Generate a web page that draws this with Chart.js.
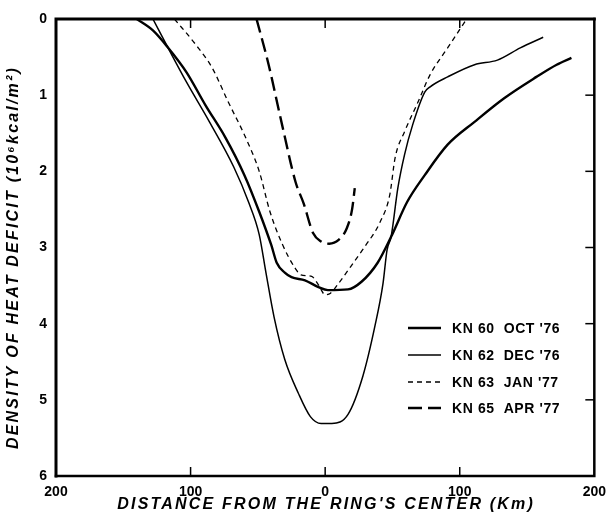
<!DOCTYPE html>
<html>
<head>
<meta charset="utf-8">
<script src="https://cdn.jsdelivr.net/npm/chart.js@4"></script>
<style>
  html, body { margin: 0; padding: 0; background: #fff; }
  #wrap { width: 614px; height: 518px; }
</style>
</head>
<body>
<div id="wrap"><canvas id="myChart" width="614" height="518"></canvas></div>
<script>
// values: distance (km, negative = left of center), heat deficit (10^6 kcal/m^2)
var oct76X = [-140, -128, -117, -103, -89, -74, -60, -49, -40, -36, -30, -25, -15, -5, 2, 17, 27, 39, 49, 61, 74, 91, 111, 133, 157, 172, 183];
var oct76Y = [0, 0.15, 0.37, 0.70, 1.13, 1.56, 2.05, 2.53, 2.97, 3.20, 3.33, 3.39, 3.43, 3.52, 3.56, 3.55, 3.45, 3.20, 2.86, 2.40, 2.05, 1.65, 1.35, 1.04, 0.76, 0.60, 0.51];

var dec76X = [-128, -117, -103, -86, -68, -57, -49, -44, -38, -30, -20, -11, -3, 5, 17, 28, 37, 43, 46, 49, 54, 59, 65, 74, 78, 91, 111, 128, 145, 162];
var dec76Y = [0, 0.37, 0.83, 1.35, 1.94, 2.40, 2.83, 3.33, 3.91, 4.47, 4.91, 5.22, 5.31, 5.31, 5.19, 4.69, 4.03, 3.47, 3.03, 2.86, 2.22, 1.78, 1.39, 0.96, 0.89, 0.76, 0.60, 0.54, 0.38, 0.24];

var jan77X = [-112, -96, -84, -72, -59, -49, -41, -32, -22, -18, -10, -5, 0, 4, 10, 19, 29, 41, 48, 52, 59, 69, 78, 91, 104];
var jan77Y = [0, 0.34, 0.64, 1.09, 1.56, 2.0, 2.53, 2.95, 3.28, 3.36, 3.38, 3.49, 3.62, 3.60, 3.47, 3.25, 3.0, 2.66, 2.31, 1.82, 1.48, 1.09, 0.73, 0.38, 0.03];

var apr77X = [-51, -42, -32, -22, -16, -9, -3, 3, 10, 16, 20, 22];
var apr77Y = [0, 0.60, 1.39, 2.14, 2.42, 2.81, 2.92, 2.95, 2.90, 2.75, 2.50, 2.22];

var seriesLabels = ["KN 60  OCT '76", "KN 62  DEC '76", "KN 63  JAN '77", "KN 65  APR '77"];
var xTicks = [-200, -100, 0, 100, 200];
var yTicks = [0, 1, 2, 3, 4, 5, 6];

function pts(xs, ys) {
  var out = [];
  for (var i = 0; i < xs.length; i++) out.push({ x: xs[i], y: ys[i] });
  return out;
}

// box, inward tick marks, axis titles and legend
var decor = {
  id: "decor",
  afterDraw: function (chart) {
    var c = chart.ctx, a = chart.chartArea;
    var xs = chart.scales.x, ys = chart.scales.y;
    c.save();
    c.strokeStyle = "#000";
    c.lineCap = "square";
    // frame
    c.lineWidth = 3;
    c.beginPath(); c.moveTo(a.left, a.bottom); c.lineTo(a.left, a.top); c.lineTo(a.right, a.top); c.stroke();
    c.lineWidth = 2.5;
    c.beginPath(); c.moveTo(a.left, a.bottom); c.lineTo(a.right, a.bottom); c.lineTo(a.right, a.top); c.stroke();
    // inward ticks
    c.lineWidth = 1.5;
    c.lineCap = "butt";
    [-100, 0, 100].forEach(function (v) {
      var px = xs.getPixelForValue(v);
      c.beginPath(); c.moveTo(px, a.bottom); c.lineTo(px, a.bottom - 9); c.stroke();
      c.beginPath(); c.moveTo(px, a.top); c.lineTo(px, a.top + 9); c.stroke();
    });
    [1, 2, 3, 4, 5].forEach(function (v) {
      var py = ys.getPixelForValue(v);
      c.beginPath(); c.moveTo(a.right, py); c.lineTo(a.right - 9, py); c.stroke();
    });
    // axis titles
    c.fillStyle = "#000";
    c.font = "italic bold 16px 'Liberation Sans', Arial, sans-serif";
    c.letterSpacing = "2.2px";
    c.textAlign = "center";
    c.textBaseline = "middle";
    c.fillText("DISTANCE FROM THE RING'S CENTER (Km)", (a.left + a.right) / 2 + 1, 505);
    c.save();
    c.translate(14, (a.top + a.bottom) / 2 + 10);
    c.rotate(-Math.PI / 2);
    c.fillText("DENSITY OF HEAT DEFICIT (10\u2076kcal/m\u00b2)", 0, 0);
    c.restore();
    c.letterSpacing = "0.6px";
    // legend
    c.font = "bold 14px 'Liberation Sans', Arial, sans-serif";
    c.textAlign = "left";
    var rowY = [328, 355, 382, 408];
    chart.data.datasets.forEach(function (ds, i) {
      c.lineWidth = ds.borderWidth;
      c.setLineDash(ds.borderDash || []);
      c.beginPath(); c.moveTo(408, rowY[i]); c.lineTo(441, rowY[i]); c.stroke();
      c.setLineDash([]);
      c.fillText(ds.label, 452, rowY[i] + 1);
    });
    c.restore();
  }
};

var ctx = document.getElementById("myChart");
var chart = new Chart(ctx, {
  type: "line",
  data: {
    datasets: [
      {
        label: seriesLabels[0],
        data: pts(oct76X, oct76Y),
        borderColor: "#000",
        borderWidth: 2.4
      },
      {
        label: seriesLabels[1],
        data: pts(dec76X, dec76Y),
        borderColor: "#000",
        borderWidth: 1.5
      },
      {
        label: seriesLabels[2],
        data: pts(jan77X, jan77Y),
        borderColor: "#000",
        borderWidth: 1.3,
        borderDash: [5, 4]
      },
      {
        label: seriesLabels[3],
        data: pts(apr77X, apr77Y),
        borderColor: "#000",
        borderWidth: 2.4,
        borderDash: [14, 6]
      }
    ]
  },
  options: {
    responsive: false,
    animation: false,
    elements: {
      point: { radius: 0 },
      line: { cubicInterpolationMode: "monotone", fill: false }
    },
    layout: { padding: { top: 19, right: 16, left: 0, bottom: 0 } },
    plugins: {
      legend: { display: false },
      tooltip: { enabled: false }
    },
    scales: {
      x: {
        type: "linear",
        min: -200,
        max: 200,
        afterBuildTicks: function (s) { s.ticks = xTicks.map(function (v) { return { value: v }; }); },
        afterFit: function (s) { s.height = 42; },
        grid: { display: false, drawTicks: false },
        border: { display: false },
        ticks: {
          color: "#000",
          font: { family: "'Liberation Sans', Arial, sans-serif", size: 14, weight: "bold" },
          padding: 8,
          maxRotation: 0,
          callback: function (v) { return Math.abs(v); }
        }
      },
      y: {
        type: "linear",
        reverse: true,
        min: 0,
        max: 6,
        afterBuildTicks: function (s) { s.ticks = yTicks.map(function (v) { return { value: v }; }); },
        afterFit: function (s) { s.width = 56; },
        grid: { display: false, drawTicks: false },
        border: { display: false },
        ticks: {
          color: "#000",
          font: { family: "'Liberation Sans', Arial, sans-serif", size: 14, weight: "bold" },
          padding: 9
        }
      }
    }
  },
  plugins: [decor]
});
</script>
</body>
</html>
